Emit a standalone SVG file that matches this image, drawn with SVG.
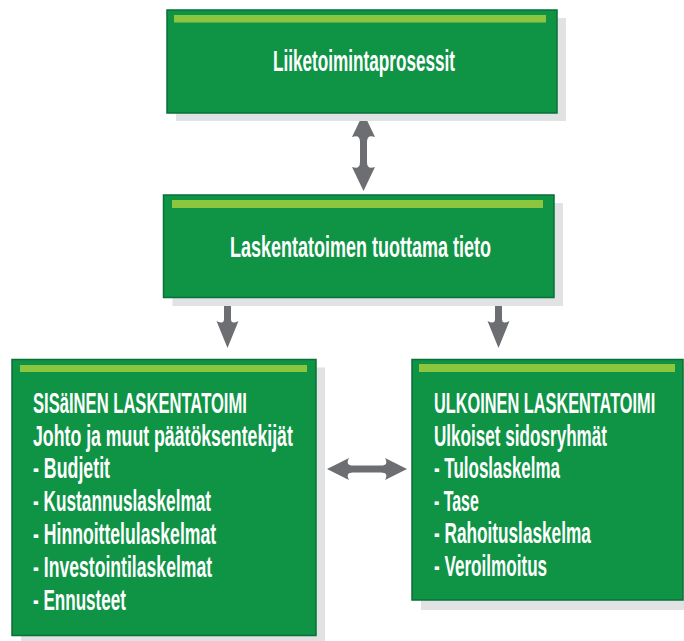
<svg xmlns="http://www.w3.org/2000/svg" width="684" height="641" viewBox="0 0 684 641">
  <defs>
    <style>
      .shadow { fill: #e1e2e4; }
      .box { fill: #0f9446; stroke: #0a6f37; stroke-width: 1.5; }
      .stripe { fill: #8cc63f; }
      .lbl { font-family: "Liberation Sans", Arial, sans-serif; font-size: 29px; font-weight: bold; fill: #ffffff; }
      .arrow { fill: #6d6e71; }
    </style>
  </defs>
  <rect width="684" height="641" fill="#ffffff"/>

  <g id="connectors">
    <!-- two-way link between processes and accounting information -->
    <path class="arrow" d="M363.5,113 L375,137 Q367,134 367,142 L367,162 Q367,170 375,167 L363.5,191 L352,167 Q360,170 360,162 L360,142 Q360,134 352,137 Z"/>
    <!-- information flows down to internal and external accounting -->
    <path class="arrow" d="M224,297 L231,297 L231,319 Q231,325 238.5,321 L227.5,348 L216.5,321 Q224,325 224,319 Z"/>
    <path class="arrow" d="M495,297 L502,297 L502,319 Q502,325 509.5,321 L498.5,348 L487.5,321 Q495,325 495,319 Z"/>
    <!-- two-way link between internal and external accounting -->
    <path class="arrow" d="M327,469 L349,458 Q345,465.5 353,465.5 L381,465.5 Q389,465.5 385,458 L407,469 L385,480 Q389,472.5 381,472.5 L353,472.5 Q345,472.5 349,480 Z"/>
  </g>

  <!-- labels use a condensed look: horizontal scale 0.56, lengths given in unscaled units -->
  <g id="liiketoimintaprosessit">
    <rect class="shadow" x="176" y="18" width="390" height="103"/>
    <rect class="box" x="167" y="10" width="390" height="103"/>
    <rect class="stripe" x="174" y="15" width="372" height="7.5"/>
    <text class="lbl" transform="translate(364,70.7) scale(0.56,1)" text-anchor="middle" textLength="325" lengthAdjust="spacingAndGlyphs">Liiketoimintaprosessit</text>
  </g>

  <g id="laskentatoimen-tieto">
    <rect class="shadow" x="172.5" y="203" width="390.5" height="103"/>
    <rect class="box" x="163.5" y="195" width="390.5" height="102.5"/>
    <rect class="stripe" x="172" y="200" width="371" height="8"/>
    <text class="lbl" transform="translate(360.5,257.3) scale(0.56,1)" text-anchor="middle" textLength="466" lengthAdjust="spacingAndGlyphs">Laskentatoimen tuottama tieto</text>
  </g>

  <g id="sisainen-laskentatoimi">
    <rect class="shadow" x="21" y="367.5" width="304" height="276"/>
    <rect class="box" x="12" y="359.5" width="304" height="276"/>
    <rect class="stripe" x="20" y="365" width="287" height="7"/>
    <text class="lbl" transform="translate(33,413.3) scale(0.56,1)" textLength="382" lengthAdjust="spacingAndGlyphs">SISäINEN LASKENTATOIMI</text>
    <text class="lbl" transform="translate(33,445.5) scale(0.56,1)" textLength="464" lengthAdjust="spacingAndGlyphs">Johto ja muut päätöksentekijät</text>
    <text class="lbl" transform="translate(33,478.3) scale(0.56,1)" textLength="137.5" lengthAdjust="spacingAndGlyphs">- Budjetit</text>
    <text class="lbl" transform="translate(33,511) scale(0.56,1)" textLength="318" lengthAdjust="spacingAndGlyphs">- Kustannuslaskelmat</text>
    <text class="lbl" transform="translate(33,543.8) scale(0.56,1)" textLength="327" lengthAdjust="spacingAndGlyphs">- Hinnoittelulaskelmat</text>
    <text class="lbl" transform="translate(33,576.6) scale(0.56,1)" textLength="320" lengthAdjust="spacingAndGlyphs">- Investointilaskelmat</text>
    <text class="lbl" transform="translate(33,609.5) scale(0.56,1)" textLength="166" lengthAdjust="spacingAndGlyphs">- Ennusteet</text>
  </g>

  <g id="ulkoinen-laskentatoimi">
    <rect class="shadow" x="421" y="368" width="271" height="242"/>
    <rect class="box" x="412" y="359.5" width="271" height="240.5"/>
    <rect class="stripe" x="419" y="364" width="256" height="8"/>
    <text class="lbl" transform="translate(434,413.3) scale(0.56,1)" textLength="395" lengthAdjust="spacingAndGlyphs">ULKOINEN LASKENTATOIMI</text>
    <text class="lbl" transform="translate(434,445.5) scale(0.56,1)" textLength="309" lengthAdjust="spacingAndGlyphs">Ulkoiset sidosryhmät</text>
    <text class="lbl" transform="translate(434,478) scale(0.56,1)" textLength="225" lengthAdjust="spacingAndGlyphs">- Tuloslaskelma</text>
    <text class="lbl" transform="translate(434,510.5) scale(0.56,1)" textLength="80" lengthAdjust="spacingAndGlyphs">- Tase</text>
    <text class="lbl" transform="translate(434,543) scale(0.56,1)" textLength="280" lengthAdjust="spacingAndGlyphs">- Rahoituslaskelma</text>
    <text class="lbl" transform="translate(434,575.5) scale(0.56,1)" textLength="202" lengthAdjust="spacingAndGlyphs">- Veroilmoitus</text>
  </g>
</svg>
